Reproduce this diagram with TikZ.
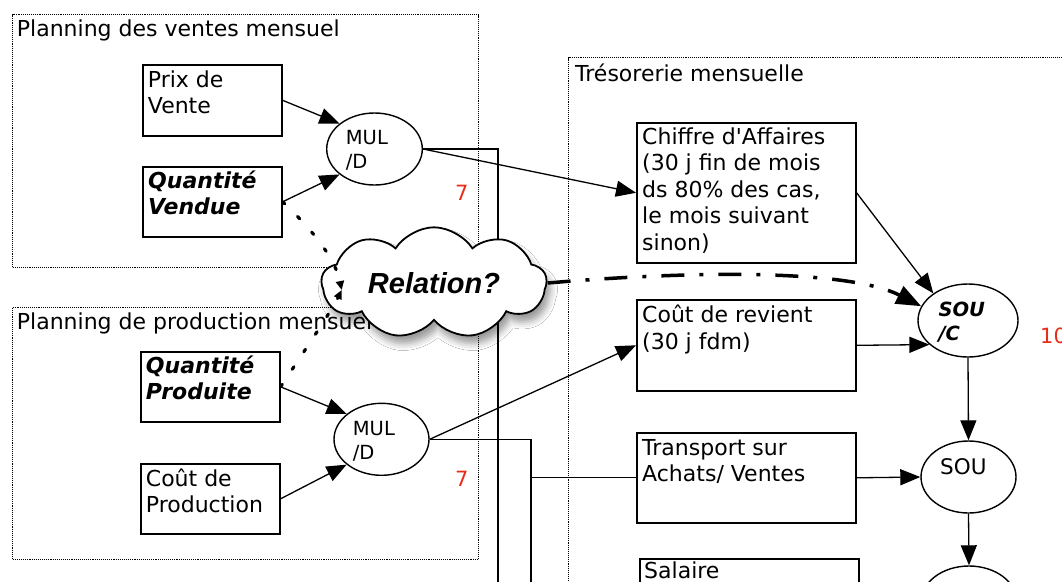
\documentclass[tikz,border=0pt]{standalone}
\usepackage{fontspec}
\setmainfont{DejaVu Sans}
\newfontfamily\relfont{Liberation Sans}
\usetikzlibrary{arrows.meta,shapes.geometric,shapes.symbols,shadows.blur}
\newcommand\ml[1]{\begin{tabular}[t]{@{}l@{}}#1\end{tabular}}
\definecolor{numred}{RGB}{232,45,25}
\begin{document}
\begin{tikzpicture}[x=1pt,y=-1pt,
 box/.style={draw, line width=1.6pt, rectangle, inner sep=0pt, anchor=north west},
 ell/.style={draw, line width=1.4pt, ellipse, inner sep=0pt},
 txt/.style={inner sep=0pt, anchor=base west, font=\fontsize{22}{26.5}\selectfont},
 etxt/.style={inner sep=0pt, anchor=base west, font=\fontsize{19.5}{24.3}\selectfont},
 grp/.style={draw, line width=1.2pt, dash pattern=on 1.1pt off 1pt, rectangle, inner sep=0pt, anchor=north west},
 con/.style={line width=1.3pt},
 arr/.style={con, -{Triangle[length=20pt,width=16pt]}},
 num/.style={inner sep=0pt, anchor=base west, text=numred, font=\fontsize{21}{25}\selectfont},
 dotc/.style={line width=3.2pt, dash pattern=on 3pt off 18pt, line cap=round, -{Triangle[length=9pt,width=8pt]}}
]
\useasboundingbox (0,0) rectangle (1062,581);
\clip (0,0) rectangle (1062,581);
\fill[white] (0,0) rectangle (1062,581);

% groups
\node[grp, minimum width=466, minimum height=253] (g1) at (12,14) {};
\node[txt] (g1t) at (16.7,36.7) {Planning des ventes mensuel};
\node[grp, minimum width=466, minimum height=252] (g2) at (12,307) {};
\node[txt] (g2t) at (16.7,329.3) {Planning de production mensuel};
\node[grp, minimum width=600, minimum height=600] (g3) at (568,57) {};
\node[txt] (g3t) at (575,81) {Trésorerie mensuelle};

% left boxes
\node[box, minimum width=139, minimum height=71] (pv) at (142,64) {};
\node[txt] (pvt) at (147.7,87.3) {\ml{Prix de\\Vente}};
\node[box, minimum width=139, minimum height=70] (qv) at (142,166) {};
\node[txt] (qvt) at (148,188.3) {\bfseries\itshape\ml{Quantité\\Vendue}};
\node[box, minimum width=139, minimum height=70] (qp) at (140,351) {};
\node[txt] (qpt) at (145.7,373.3) {\bfseries\itshape\ml{Quantité\\Produite}};
\node[box, minimum width=139, minimum height=70] (cp) at (140,463) {};
\node[txt] (cpt) at (145.7,486) {\ml{Coût de\\Production}};

% MUL ellipses
\node[ell, minimum width=95.6, minimum height=72] (mul1) at (374.5,149) {};
\node[etxt] (mul1t) at (345.7,144) {\ml{MUL\\/D}};
\node[ell, minimum width=95, minimum height=72] (mul2) at (381.5,439.3) {};
\node[etxt] (mul2t) at (352.7,435) {\ml{MUL\\/D}};

% numbers
\node[num] (n1) at (455,200.5) {7};
\node[num] (n2) at (455,486.7) {7};
\node[num] (n3) at (1040,343.3) {10};

% treasury boxes
\node[box, minimum width=219, minimum height=140] (ca) at (636,122) {};
\node[txt] (cat) at (642,144.3) {\ml{Chiffre d\textquotesingle Affaires\\(30 j fin de mois\\ds 80\% des cas,\\le mois suivant\\sinon)}};
\node[box, minimum width=219, minimum height=91] (cr) at (636,299) {};
\node[txt] (crt) at (642,322.7) {\ml{Coût de revient\\(30 j fdm)}};
\node[box, minimum width=219, minimum height=90] (tr) at (636,432) {};
\node[txt] (trt) at (642,455) {\ml{Transport sur\\Achats/ Ventes}};
\node[box, minimum width=219, minimum height=90] (sa) at (639,558) {};
\node[txt] (sat) at (644,578) {Salaire};

% SOU ellipses
\node[ell, minimum width=100, minimum height=73] (souc) at (968,320.5) {};
\node[etxt] (souct) at (938.3,316) {\bfseries\itshape\ml{SOU\\/C}};
\node[ell, minimum width=95, minimum height=72] (sou) at (968.5,477) {};
\node[txt, font=\fontsize{21.5}{26}\selectfont] (sout) at (940,474) {SOU};
\node[ell, minimum width=96, minimum height=72] (sou2) at (969,602) {};

\coordinate (b1) at (498,600);
\coordinate (b2) at (531,600);
\coordinate (cl) at (341.7,290);

% connectors behind cloud
\draw[arr] (pv.east) -- (mul1.144);
\draw[arr] (qv.east) -- (mul1.216);
\draw[arr] (qp.east) -- (mul2.144);
\draw[arr] (cp.east) -- (mul2.216);
\draw[arr] (mul1.east) -- (ca.west);
\draw[con] (mul1.east) -| (b1);
\draw[arr] (mul2.east) -- (cr.west);
\draw[con] (mul2.east) -| (b2);
\draw[con] (tr.west -| b2) -- (tr.west);
\draw[arr] (ca.east) -- (souc.142);
\draw[arr] (cr.east) -- (souc.212.5);
\draw[arr] (tr.east) -- (sou.west);
\draw[arr] (souc.south) -- (sou.north);
\draw[arr] (sou.south) -- (sou2.north);

% cloud
\node[cloud, draw, line width=1.8pt, fill=white, cloud puffs=9, cloud puff arc=115, aspect=2.3,
  minimum width=225, minimum height=97, inner sep=0pt,
  blur shadow={shadow xshift=4pt, shadow yshift=-8pt, shadow blur radius=7pt},
  font=\relfont\bfseries\itshape\fontsize{29}{34}\selectfont] (rel) at (434,283) {Relation?};

\draw[dotc] (qv.east) .. controls (318,235) and (336,262) .. (cl);
\draw[dotc] (qp.east) .. controls (305,350) and (332,310) .. (cl);
\draw[line width=3.5pt, dash pattern=on 23pt off 15pt on 4pt off 15pt, -{Triangle[length=25pt,width=19pt]}]
  (rel.east) .. controls (700,270) and (850,270) .. (souc.163);
\end{tikzpicture}
\end{document}
